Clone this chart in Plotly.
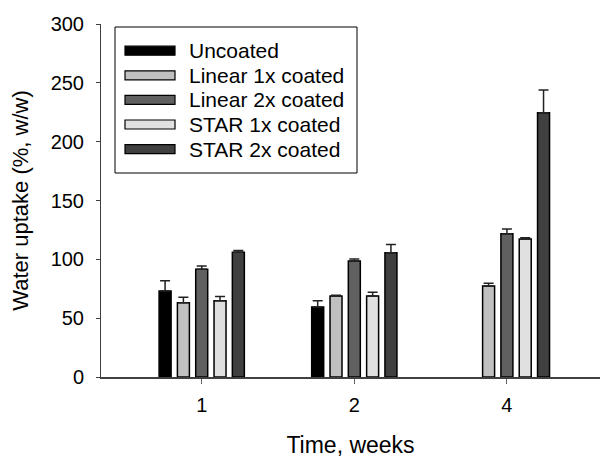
import plotly.graph_objects as go

weeks = ["1", "2", "4"]
series_names = ["Uncoated", "Linear 1x coated", "Linear 2x coated", "STAR 1x coated", "STAR 2x coated"]
uncoated = [73.0, 59.5, None]
uncoated_err = [8.8, 5.3, None]
linear1 = [63.0, 68.8, 77.3]
linear1_err = [4.7, 0.7, 2.3]
linear2 = [91.5, 98.6, 121.7]
linear2_err = [2.8, 1.7, 4.1]
star1 = [64.8, 68.8, 117.3]
star1_err = [3.7, 3.2, 1.1]
star2 = [106.0, 105.6, 224.6]
star2_err = [1.6, 7.1, 19.3]

values = [uncoated, linear1, linear2, star1, star2]
errors = [uncoated_err, linear1_err, linear2_err, star1_err, star2_err]
colors = ["#000000", "#c0c0c0", "#606060", "#e0e0e0", "#404040"]

FONT = "Liberation Sans, Arial, sans-serif"
W, H = 600, 458
L, R, T, B = 101, 0, 24, 81

fig = go.Figure()
for name, vals, errs, col in zip(series_names, values, errors, colors):
    fig.add_trace(go.Bar(
        name=name, x=weeks, y=vals,
        marker=dict(color=col, line=dict(color="#000000", width=1.5)),
        error_y=dict(type="data", symmetric=False, array=errs,
                     arrayminus=[0 if e is not None else None for e in errs],
                     color="#222222", thickness=1.5, width=5),
        showlegend=False,
    ))

# custom legend (layout decoration, paper coordinates)
def px(x):
    return (x - L) / (W - L - R)

def py(y):
    return (H - B - y) / (H - T - B)

shapes = [dict(type="rect", xref="paper", yref="paper",
               x0=px(115), x1=px(357), y0=py(173), y1=py(27),
               line=dict(color="#000000", width=1), fillcolor="white", layer="above")]
annotations = []
row0, step = 50.7, 24.6
for i, (name, col) in enumerate(zip(series_names, colors)):
    cy = row0 + i * step
    shapes.append(dict(type="rect", xref="paper", yref="paper",
                       x0=px(125), x1=px(175), y0=py(cy + 4.5), y1=py(cy - 4.5),
                       line=dict(color="#000000", width=1.2), fillcolor=col, layer="above"))
    annotations.append(dict(xref="paper", yref="paper", x=px(187), y=py(cy),
                            xanchor="left", yanchor="middle", text=name, showarrow=False,
                            font=dict(family=FONT, size=21, color="#000000")))

fig.update_layout(
    width=W, height=H,
    margin=dict(l=L, r=R, t=T, b=B, pad=0),
    paper_bgcolor="white", plot_bgcolor="white",
    barmode="group", bargap=0.4, bargroupgap=0.345,
    font=dict(family=FONT, color="#000000"),
    shapes=shapes, annotations=annotations,
    xaxis=dict(type="category", categoryorder="array", categoryarray=weeks,
               range=[-0.66, 2.61], showgrid=False, zeroline=False,
               showline=True, linecolor="#404040", linewidth=2,
               ticks="outside", ticklen=5, tickwidth=1, tickcolor="#606060",
               ticklabelstandoff=4,
               tickfont=dict(family=FONT, size=20, color="#000000"),
               title=dict(text="Time, weeks", font=dict(family=FONT, size=23, color="#000000"), standoff=25)),
    yaxis=dict(range=[0, 300], tickvals=[0, 50, 100, 150, 200, 250, 300],
               showgrid=False, zeroline=False,
               showline=True, linecolor="#404040", linewidth=1,
               ticks="outside", ticklen=4, tickwidth=1, tickcolor="#404040",
               ticklabelstandoff=8,
               tickfont=dict(family=FONT, size=20, color="#000000"),
               title=dict(text="Water uptake (%, w/w)", font=dict(family=FONT, size=22, color="#000000"), standoff=15)),
)

fig.write_html("out.html")
